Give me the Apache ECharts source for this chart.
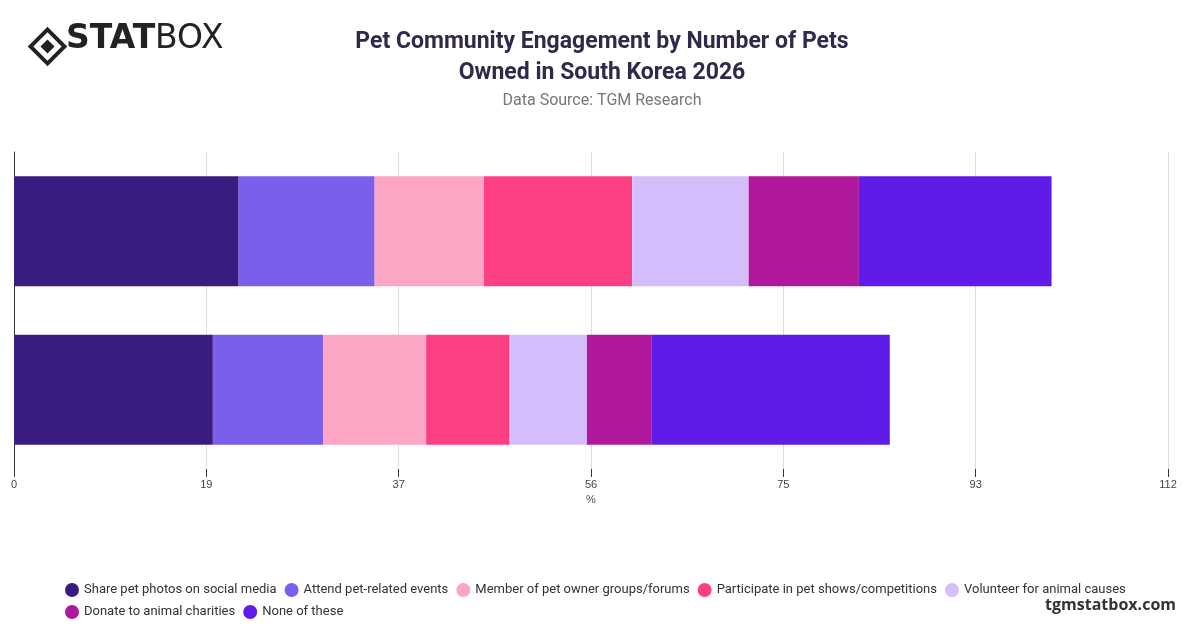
<!DOCTYPE html>
<html><head><meta charset="utf-8">
<script src="https://cdn.jsdelivr.net/npm/echarts@6/dist/echarts.min.js"></script>
<style>html,body{margin:0;padding:0;background:#fff}#c{width:1200px;height:628px}</style>
</head><body><div id="c"></div>
<script>
const categories = ["Owns one pet", "Owns multiple pets"];
const seriesNames = ["Share pet photos on social media","Attend pet-related events","Member of pet owner groups/forums","Participate in pet shows/competitions","Volunteer for animal causes","Donate to animal charities","None of these"];
const colors = ["#3a1c80","#7b5fec","#fca5c5","#fe3f84","#d5bdfb","#b0189c","#611be9"];
const values = [
  [19.3, 21.8],
  [10.7, 13.2],
  [10.0, 10.6],
  [8.1, 14.4],
  [7.5, 11.3],
  [6.3, 10.7],
  [23.1, 18.7]
];
const chart = echarts.init(document.getElementById('c'));
chart.setOption({
  animation:false,
  graphic:[
    {type:'group',left:27,top:26,children:[
      {type:'rect',shape:{x:0,y:0,width:24,height:24},rotation:Math.PI/4,origin:[12,12],style:{fill:'none',stroke:'#222',lineWidth:4}},
      {type:'rect',shape:{x:7,y:7,width:10,height:10},rotation:Math.PI/4,origin:[12,12],style:{fill:'#222'}}
    ]},
    {type:'text',left:66,top:23,style:{text:'STAT',font:'900 33px "DejaVu Sans"',fill:'#222'}},
    {type:'text',left:155,top:23,style:{text:'BOX',font:'400 33px "DejaVu Sans"',fill:'#222'}},
    {type:'text',right:24,top:597,style:{text:'tgmstatbox.com',font:'bold 16px "Open Sans"',fill:'#333'}}
  ],
  title:{text:'Pet Community Engagement by Number of Pets\nOwned in South Korea 2026',subtext:'Data Source: TGM Research',left:597,textAlign:'center',top:22,
    textStyle:{fontSize:23,fontWeight:'bold',color:'#2d2a4a',lineHeight:31,fontFamily:'Roboto'},
    subtextStyle:{fontSize:16,color:'#777',fontFamily:'Roboto'},itemGap:4},
  legend:{bottom:4,left:60,right:40,itemWidth:14,itemHeight:14,icon:'circle',itemGap:8,
    textStyle:{fontSize:13,color:'#333',fontFamily:'Roboto',padding:[0,14,0,0]},data:seriesNames},
  grid:{left:14,right:32,top:152,bottom:159},
  xAxis:{type:'value',min:0,max:112,interval:112/6,name:'%',nameLocation:'middle',nameGap:24,
    nameTextStyle:{color:'#555',fontSize:11},
    axisLabel:{formatter:v=>Math.round(v),color:'#444',fontSize:11,margin:10},
    axisTick:{show:true,length:8,lineStyle:{color:'#333'}},axisLine:{show:false},
    splitLine:{lineStyle:{color:'#ddd'}}},
  yAxis:{type:'category',data:categories,axisLabel:{show:false},axisTick:{show:false},
    axisLine:{lineStyle:{color:'#333'}}},
  series:seriesNames.map((n,i)=>({name:n,type:'bar',stack:'a',data:values[i],barWidth:110,
    itemStyle:{color:colors[i]}}))
});
</script></body></html>
